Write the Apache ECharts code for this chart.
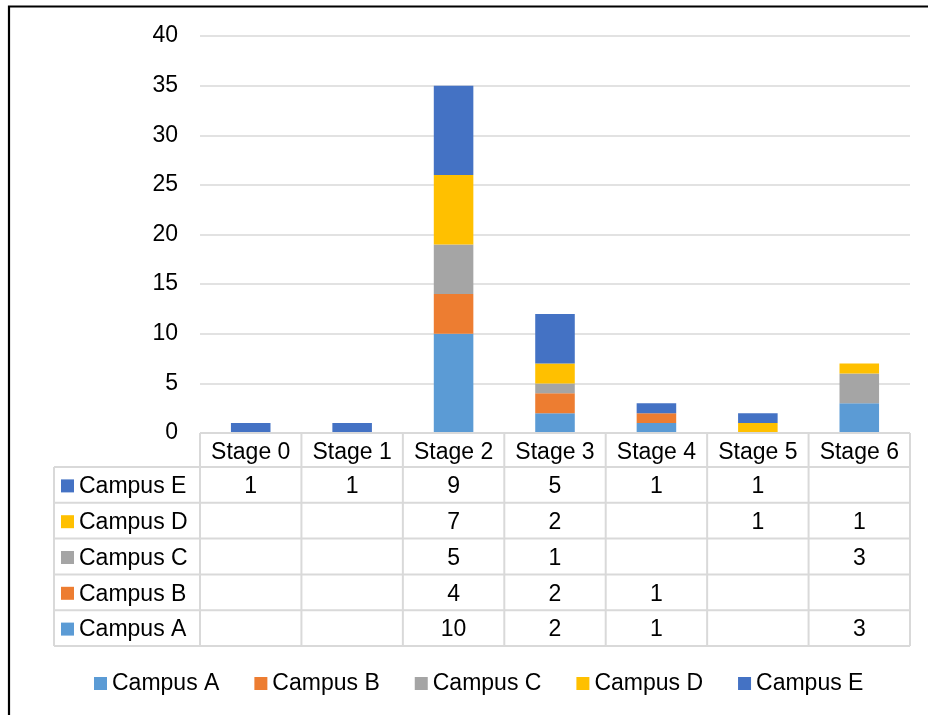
<!DOCTYPE html>
<html>
<head>
<meta charset="utf-8">
<script src="https://cdn.jsdelivr.net/npm/echarts@6/dist/echarts.min.js"></script>
<style>
  html, body { margin: 0; padding: 0; background: #fff; }
  #chart { width: 928px; height: 715px; }
</style>
</head>
<body>
<div id="chart"></div>
<script>
// Stages along the x axis
const stages = ['Stage 0', 'Stage 1', 'Stage 2', 'Stage 3', 'Stage 4', 'Stage 5', 'Stage 6'];
// Campus series (null = no entry for that stage)
const campusNames = ['Campus A', 'Campus B', 'Campus C', 'Campus D', 'Campus E'];
const campusA = [null, null, 10, 2, 1, null, 3];
const campusB = [null, null, 4, 2, 1, null, null];
const campusC = [null, null, 5, 1, null, null, 3];
const campusD = [null, null, 7, 2, null, 1, 1];
const campusE = [1, 1, 9, 5, 1, 1, null];
// Value axis ticks
const yTicks = [0, 5, 10, 15, 20, 25, 30, 35, 40];

const campusColors = ['#5B9BD5', '#ED7D31', '#A5A5A5', '#FFC000', '#4472C4'];
const seriesValues = [campusA, campusB, campusC, campusD, campusE];

const FONT = '"Liberation Sans", Arial, sans-serif';
const FS = 23;
const LINE = '#d9d9d9';

const chart = echarts.init(document.getElementById('chart'), null, { renderer: 'canvas' });

chart.setOption({
  animation: false,
  backgroundColor: '#fff',
  textStyle: { fontFamily: FONT },
  grid: { left: 200, right: 18, top: 36, bottom: 282 },
  legend: {
    data: campusNames,
    left: 94,
    top: 672,
    padding: 0,
    icon: 'rect',
    itemWidth: 13,
    itemHeight: 13,
    itemGap: 35,
    textStyle: { fontSize: FS, color: '#000', fontFamily: FONT }
  },
  xAxis: {
    type: 'category',
    data: stages,
    axisLine: { show: false },
    axisTick: { show: false },
    axisLabel: { interval: 0, fontSize: FS, color: '#000', margin: 8, fontFamily: FONT }
  },
  yAxis: {
    type: 'value',
    min: yTicks[0],
    max: yTicks[yTicks.length - 1],
    interval: yTicks[1] - yTicks[0],
    axisLine: { show: false },
    axisTick: { show: false },
    axisLabel: { fontSize: FS, color: '#000', margin: 22, fontFamily: FONT },
    splitLine: { lineStyle: { color: LINE, width: 1.5 } }
  },
  series: campusNames.map((name, i) => ({
    name: name,
    type: 'bar',
    stack: 'total',
    barWidth: '39%',
    data: seriesValues[i],
    itemStyle: { color: campusColors[i] }
  }))
});

// Data table under the plot, aligned with the category bands
function buildTable() {
  const c0 = chart.convertToPixel({ xAxisIndex: 0 }, 0);
  const c1 = chart.convertToPixel({ xAxisIndex: 0 }, 1);
  const band = c1 - c0;
  const colLeft = c0 - band / 2;
  const colRight = colLeft + band * stages.length;
  const yTop = chart.convertToPixel({ yAxisIndex: 0 }, 0);
  const headerH = 34;
  const rowH = 35.8;
  const labelLeft = 54;
  const bodyTop = yTop + headerH;
  const bodyBottom = bodyTop + rowH * campusNames.length;
  const textDrop = 2;

  const els = [];
  const line = (x1, y1, x2, y2) => els.push({
    type: 'line', z: 10, silent: true,
    shape: { x1: x1, y1: y1, x2: x2, y2: y2 },
    style: { stroke: LINE, lineWidth: 2 }
  });

  line(colLeft, yTop, colRight, yTop);
  for (let k = 0; k <= campusNames.length; k++) {
    const y = bodyTop + k * rowH;
    line(labelLeft, y, colRight, y);
  }
  for (let j = 0; j <= stages.length; j++) {
    const x = colLeft + j * band;
    line(x, yTop, x, bodyBottom);
  }
  line(labelLeft, bodyTop, labelLeft, bodyBottom);

  // Rows listed top-down from the last series to the first
  for (let r = 0; r < campusNames.length; r++) {
    const ci = campusNames.length - 1 - r;
    const cy = bodyTop + r * rowH + rowH / 2;
    els.push({
      type: 'rect', z: 10, silent: true,
      shape: { x: 61, y: cy - 6.5 + textDrop / 2, width: 13, height: 13 },
      style: { fill: campusColors[ci] }
    });
    els.push({
      type: 'text', z: 10, silent: true,
      x: 79, y: cy + textDrop,
      style: { text: campusNames[ci], fontSize: FS, fontFamily: FONT, fill: '#000', align: 'left', verticalAlign: 'middle' }
    });
    seriesValues[ci].forEach((v, j) => {
      if (v === null) return;
      els.push({
        type: 'text', z: 10, silent: true,
        x: chart.convertToPixel({ xAxisIndex: 0 }, j), y: cy + textDrop,
        style: { text: String(v), fontSize: FS, fontFamily: FONT, fill: '#000', align: 'center', verticalAlign: 'middle' }
      });
    });
  }

  // Chart frame
  els.push({
    type: 'rect', z: 20, silent: true,
    shape: { x: 9, y: 6.5, width: 960, height: 760 },
    style: { fill: 'none', stroke: '#000', lineWidth: 2.2 }
  });

  chart.setOption({ graphic: els });
}

buildTable();
</script>
</body>
</html>
